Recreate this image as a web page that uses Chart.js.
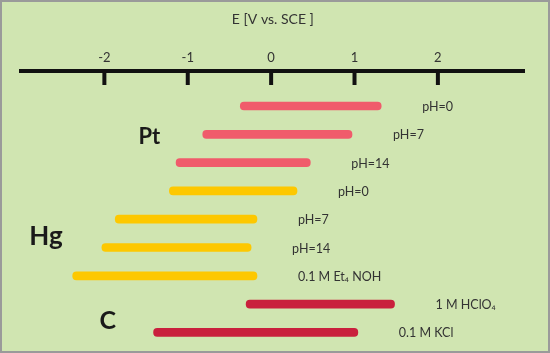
<!DOCTYPE html>
<html><head><meta charset="utf-8">
<script src="https://cdn.jsdelivr.net/npm/chart.js@4"></script>
<style>html,body{margin:0;padding:0;background:#d0e5b1;overflow:hidden}</style></head>
<body><canvas id="c" width="550" height="353"></canvas>
<script>
const axisTitle = 'E [V vs. SCE ]';
const tickValues = [-2, -1, 0, 1, 2];
const groups = ['Pt', 'Hg', 'C'];
const groupRows = [[0, 1, 2], [3, 4, 5, 6], [7, 8]];
const rowLabels = ['pH=0', 'pH=7', 'pH=14', 'pH=0', 'pH=7', 'pH=14', '0.1 M Et\u2084 NOH', '1 M HClO\u2084', '0.1 M KCl'];
const windowStart = [-0.37, -0.82, -1.14, -1.22, -1.87, -2.03, -2.38, -0.30, -1.41];
const windowEnd   = [ 1.32,  0.97,  0.47,  0.31, -0.17, -0.24, -0.17,  1.48,  1.04];

const colors = ['#f05b6b', '#fdc800', '#c9203d'];
const groupLabelCfg = [
  {v: -1.46, row: 1.1, size: 22},
  {v: -2.70, row: 4.62, size: 26},
  {v: -1.96, row: 7.6, size: 25}
];

const frame = {
  id: 'frame',
  beforeDraw(chart) {
    const c = chart.ctx;
    c.save(); c.fillStyle = '#d0e5b1'; c.fillRect(0, 0, chart.width, chart.height); c.restore();
  },
  afterDraw(chart) {
    const c = chart.ctx;
    const xs = chart.scales.x;
    c.save();
    c.strokeStyle = '#111'; c.lineWidth = 4; c.lineCap = 'butt';
    xs.ticks.forEach(t => {
      const px = xs.getPixelForValue(t.value);
      c.beginPath(); c.moveTo(px, xs.bottom); c.lineTo(px, xs.bottom + 14); c.stroke();
    });
    c.strokeStyle = '#9a9a9a'; c.lineWidth = 2;
    c.strokeRect(1, 1, chart.width - 2, chart.height - 2);
    c.restore();
  }
};

const barLabels = {
  id: 'barLabels',
  afterDatasetsDraw(chart) {
    const c = chart.ctx;
    const xs = chart.scales.x, ys = chart.scales.y;
    c.save();
    c.fillStyle = '#333'; c.font = '12.5px Lato, "DejaVu Sans", sans-serif';
    c.textAlign = 'left'; c.textBaseline = 'middle';
    chart.data.datasets.forEach((ds, di) => {
      chart.getDatasetMeta(di).data.forEach((el, j) => {
        const right = Math.max(el.x, el.base);
        c.fillText(ds.data[j].label, right + 41, el.y + 1);
      });
    });
    c.fillStyle = '#1a1a1a'; c.textAlign = 'center';
    groups.forEach((g, gi) => {
      const a = groupLabelCfg[gi];
      c.font = 'bold ' + a.size + 'px Lato, "DejaVu Sans", sans-serif';
      c.fillText(g, xs.getPixelForValue(a.v), ys.getPixelForValue(a.row));
    });
    c.restore();
  }
};

new Chart(document.getElementById('c'), {
  type: 'bar',
  data: {
    datasets: groups.map((g, gi) => ({
      label: g,
      data: groupRows[gi].map(i => ({x: [windowStart[i], windowEnd[i]], y: i, label: rowLabels[i]})),
      backgroundColor: colors[gi],
      barThickness: 8,
      borderRadius: 4,
      borderSkipped: false,
      grouped: false
    }))
  },
  options: {
    indexAxis: 'y',
    responsive: false,
    animation: false,
    devicePixelRatio: 1,
    layout: {padding: {top: 10.6, left: 21, right: 25.4, bottom: 0}},
    plugins: {legend: {display: false}, tooltip: {enabled: false}},
    scales: {
      x: {
        type: 'linear', position: 'top', min: -3, max: 3.04,
        afterBuildTicks: s => { s.ticks = tickValues.map(v => ({value: v})); },
        grid: {display: false, drawTicks: false},
        border: {display: true, color: '#111', width: 4},
        ticks: {font: {family: 'Lato', size: 13}, color: '#333', padding: 5},
        title: {display: true, text: axisTitle, font: {family: 'Lato', size: 14}, color: '#333', padding: {top: 0, bottom: 18}}
      },
      y: {
        type: 'linear', reverse: true, min: -1.237, max: 8.728, display: false, offset: false
      }
    }
  },
  plugins: [frame, barLabels]
});
</script></body></html>
